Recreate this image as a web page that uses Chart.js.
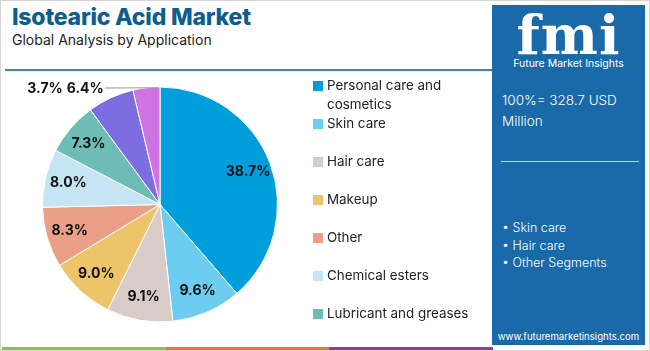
<!DOCTYPE html>
<html>
<head>
<meta charset="utf-8">
<script src="https://cdn.jsdelivr.net/npm/chart.js@4.4.0/dist/chart.umd.min.js"></script>
<style>
  body { margin: 0; background: #fff; font-family: "Roboto", "Open Sans", sans-serif; }
  #frame { position: relative; width: 650px; height: 351px; overflow: hidden; background: #fff; }
  #title { position: absolute; left: 12px; top: 3px; font: 800 23px "Inter", sans-serif; color: #0d5d8f; letter-spacing: -0.2px; }
  #subtitle { position: absolute; left: 12px; top: 31px; font: 400 14px "Inter", sans-serif; color: #222; }
  #rule { position: absolute; left: 5px; top: 69px; width: 488px; height: 2px; background: #3d86bf; }
  #chartBox { position: absolute; left: 0; top: 75px; width: 320px; height: 262px; }
  #legend { position: absolute; left: 313px; top: 76px; width: 175px; font: 400 13.4px "Inter", sans-serif; color: #222; }
  .item { position: relative; height: 38px; padding-left: 14px; line-height: 19px; }
  .item span.sw { position: absolute; left: 0; top: 5px; width: 10px; height: 10px; }
  #panel { position: absolute; left: 492px; top: 5px; width: 153px; height: 340px; background: #1a6aa9; color: #fff; font-family: "Inter", sans-serif; }
  #logo { position: absolute; left: 0; width: 153px; top: 2px; text-align: center; font: 900 54px "DejaVu Serif", serif; color: #fff; letter-spacing: 1px; line-height: 56px;
          background: repeating-linear-gradient(to bottom, transparent 0 3px, #1a6aa9 3px 4px); -webkit-background-clip: text; }
  #logoSub { position: absolute; left: 0; width: 153px; top: 52px; text-align: center; font: 400 10.5px "Inter", sans-serif; }
  #total { position: absolute; left: 10px; top: 85px; font-size: 13.5px; line-height: 21px; font-weight: 300; }
  #panelRule { position: absolute; left: 9px; top: 156px; width: 138px; height: 1px; background: #c8dbea; }
  #bullets { position: absolute; left: 10px; top: 214px; font-size: 12.5px; line-height: 17.5px; font-weight: 300; }
  #site { position: absolute; left: 0; width: 153px; top: 326px; text-align: center; font-size: 9.6px; }
  #strip { position: absolute; left: 2px; top: 347px; height: 3px; width: 491px; display: flex; }
  #strip div { flex: 1; }
  #border { position: absolute; left: 0; top: 0; width: 648px; height: 349px; border: 1px solid #d6d6d6; pointer-events: none; }
</style>
</head>
<body>
<div id="frame">
  <div id="title">Isotearic Acid Market</div>
  <div id="subtitle">Global Analysis by Application</div>
  <div id="rule"></div>
  <div id="chartBox"><canvas id="pieChart"></canvas></div>
  <div id="legend"></div>
  <div id="panel">
    <div id="logo">fmi</div>
    <div id="logoSub">Future Market Insights</div>
    <div id="total">100%= 328.7 USD<br>Million</div>
    <div id="panelRule"></div>
    <div id="bullets">• Skin care<br>• Hair care<br>• Other Segments</div>
    <div id="site">www.futuremarketinsights.com</div>
  </div>
  <div id="strip"><div style="background:#8cc04a"></div><div style="background:#ec7340"></div><div style="background:#9b3a8e"></div></div>
  <div id="border"></div>
</div>
<script>
// Datos del grafico
const categories = ['Personal care and cosmetics', 'Skin care', 'Hair care', 'Makeup', 'Other',
  'Chemical esters', 'Lubricant and greases', 'Plastics', 'Others'];
const shares = [38.7, 9.6, 9.1, 9.0, 8.3, 8.0, 7.3, 6.4, 3.7];
const colors = ['#009fdc', '#6ccdf1', '#d9ccc8', '#eec46b', '#eb9f87', '#c5e4f4', '#6dbdb6', '#7c6de0', '#cd73e2'];
const legendCount = 7;

// Leyenda HTML
const legend = document.getElementById('legend');
categories.slice(0, legendCount).forEach((c, i) => {
  const d = document.createElement('div');
  d.className = 'item';
  d.innerHTML = '<span class="sw" style="background:' + colors[i] + '"></span>' + c;
  legend.appendChild(d);
});

// Etiquetas de porcentaje
const sliceLabels = {
  id: 'sliceLabels',
  afterDatasetsDraw(chart) {
    const ctx = chart.ctx;
    const arcs = chart.getDatasetMeta(0).data;
    ctx.save();
    ctx.font = 'bold 14px "Inter", sans-serif';
    ctx.fillStyle = '#111';
    ctx.textBaseline = 'middle';
    let outside = [];
    arcs.forEach((arc, i) => {
      const p = arc.getProps(['x', 'y', 'startAngle', 'endAngle', 'outerRadius']);
      const mid = (p.startAngle + p.endAngle) / 2;
      const txt = shares[i].toFixed(1) + '%';
      if (shares[i] >= 7) {
        ctx.textAlign = 'center';
        const r = p.outerRadius * 0.8;
        ctx.fillText(txt, p.x + Math.cos(mid) * r, p.y + Math.sin(mid) * r);
      } else {
        outside.push({ txt, p, mid });
      }
    });
    if (outside.length) {
      const last = outside[outside.length - 1];
      const ax = last.p.x + Math.cos(last.mid) * last.p.outerRadius;
      const ay = last.p.y + Math.sin(last.mid) * last.p.outerRadius;
      const y = last.p.y - last.p.outerRadius + 1;
      let x = last.p.x - last.p.outerRadius * 0.47;
      ctx.strokeStyle = '#999';
      ctx.lineWidth = 1;
      ctx.beginPath();
      ctx.moveTo(x, y);
      ctx.lineTo(ax + 12, ay);
      ctx.stroke();
      ctx.textAlign = 'right';
      outside.forEach(o => {
        ctx.fillText(o.txt, x - 1, y + 1);
        x -= ctx.measureText(o.txt).width + 4;
      });
    }
    ctx.restore();
  }
};

new Chart(document.getElementById('pieChart').getContext('2d'), {
  type: 'pie',
  data: {
    labels: categories,
    datasets: [{
      data: shares,
      backgroundColor: colors,
      borderColor: '#fff',
      borderWidth: 1
    }]
  },
  options: {
    responsive: true,
    maintainAspectRatio: false,
    animation: false,
    layout: { padding: { left: 42, right: 42, top: 11, bottom: 14 } },
    plugins: {
      legend: { display: false },
      tooltip: { enabled: false }
    }
  },
  plugins: [sliceLabels]
});
</script>
</body>
</html>
